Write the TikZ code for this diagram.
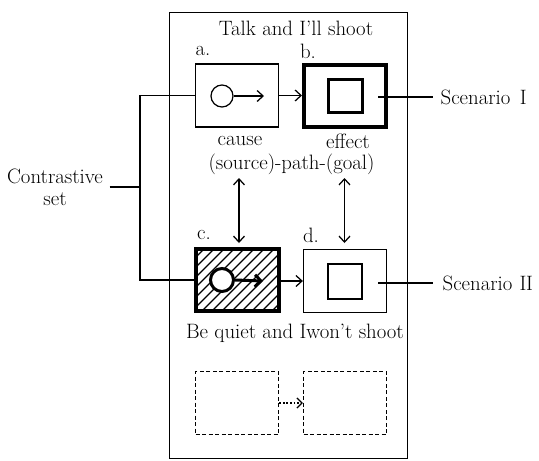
\documentclass[tikz,border=0pt]{standalone}
\usetikzlibrary{arrows.meta}
\begin{document}
\begin{tikzpicture}[x=1pt,y=-1pt, font=\fontsize{20.8}{22}\selectfont,
  line width=1.25pt,
  box/.style={draw, line width=1.25pt, minimum width=83pt, minimum height=63pt, inner sep=0pt},
  dbox/.style={draw, line width=1.4pt, dash pattern=on 4pt off 2.5pt, minimum width=83pt, minimum height=63pt, inner sep=0pt},
  barb/.style={-{Straight Barb[length=6pt,width=11pt]}},
  dbarb/.style={{Straight Barb[length=6pt,width=11pt]}-{Straight Barb[length=6pt,width=11pt]}},
  lbl/.style={inner sep=0pt}]
\useasboundingbox (0,0) rectangle (539,461);
\fill[white] (0,0) rectangle (539,461);

% panel
\node[draw, line width=1.5pt, minimum width=238pt, minimum height=446pt, inner sep=0pt] (panel) at (288.5,235.5) {};

% titles
\node[lbl] (t1) at (296,28) {Talk and I’ll shoot};
\node[lbl] (la) at (203,51) {a.};
\node[lbl] (lb) at (308,51) {b.};

% box a
\node[box] (a) at (237,95.5) {};
\node[draw, circle, line width=1.25pt, minimum size=22pt, inner sep=0pt] (ca) at (222,96) {};
\coordinate (ta) at (264,96);
\draw[barb] (ca.east) -- (ta);

% box b
\node[draw, line width=4pt, minimum width=82pt, minimum height=62pt, inner sep=0pt] (b) at (345,95.5) {};
\node[draw, line width=3pt, minimum width=34pt, minimum height=33pt, inner sep=0pt] (bin) at (345.5,96) {};
\draw[barb] (a) -- (b);

\node[lbl] (cause) at (240,141) {cause};
\node[lbl] (effect) at (348,141) {effect};
\node[lbl] (spg) at (291.5,164) {(source)-path-(goal)};

% double arrows
\coordinate (u1) at (239,178);
\coordinate (l1) at (239,243);
\coordinate (u2) at (344.5,178);
\coordinate (l2) at (344.5,243);
\draw[dbarb] (u1) -- (l1);
\draw[dbarb] (u2) -- (l2);

\node[lbl] (lc) at (204,235) {c.};
\node[lbl] (ld) at (311,235) {d.};

% box c hatched
\begin{scope}
  \clip (196,249) rectangle (279,311);
  \foreach \x in {110,120,...,300} \draw[line width=1.4pt] (\x,313) -- (\x+70,243);
\end{scope}
\node[draw, line width=3.5pt, minimum width=83pt, minimum height=62pt, inner sep=0pt] (c) at (237.5,280) {};
\node[draw, circle, fill=white, line width=3pt, minimum size=23pt, inner sep=0pt] (cc) at (222,280) {};
\coordinate (tc) at (263,281);
\draw[line width=3pt, -{Straight Barb[length=6pt,width=12pt,line width=3pt]}] (cc.east) -- (tc);

% box d
\node[box] (d) at (345,281) {};
\node[draw, line width=1.25pt, minimum width=34pt, minimum height=35pt, inner sep=0pt] (din) at (345,281.5) {};
\draw[barb] (c.east |- d.west) -- (d.west);

\node[lbl] (bq) at (295,333) {Be quiet and Iwon’t shoot};

% dashed boxes
\node[dbox] (e) at (237,403) {};
\node[dbox] (f) at (345,403) {};
\draw[dash pattern=on 1.8pt off 1.8pt, -{Straight Barb[length=5pt,width=10pt]}] (e) -- (f);

% contrastive set bracket
\coordinate (brk) at (140,187);
\draw (a.west) -| (brk) |- (c.west);
\node[inner sep=0pt, align=center] (ct) at (55,187) {Contrastive\\set};
\draw ([xshift=6pt]ct.east |- brk) -- (brk);

% scenarios
\node[anchor=west, inner sep=0pt] (s1) at (440,97) {Scenario\hspace{0.45em}I};
\node[anchor=west, inner sep=0pt] (s2) at (442,283) {Scenario\hspace{0.35em}I\kern-0.5pt I};
\draw ([xshift=-10pt]b.east |- s1.west) -- ([xshift=-7pt]s1.west);
\draw ([xshift=-9pt]d.east |- s2.west) -- ([xshift=-9pt]s2.west);
\end{tikzpicture}
\end{document}
